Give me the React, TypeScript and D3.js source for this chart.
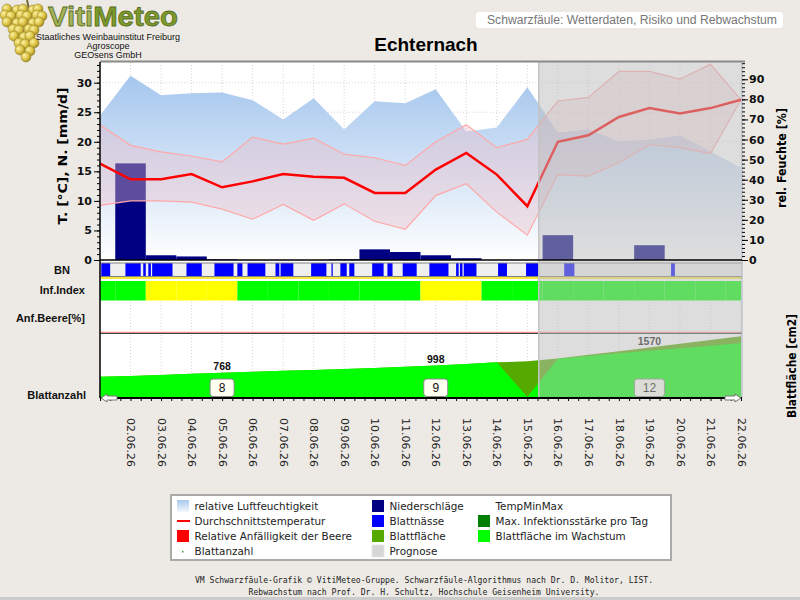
import React, { useRef, useEffect } from 'react'
import * as d3 from 'd3'

// one value per day, 01.06.26 - 22.06.26
const dates = ['01.06.26', '02.06.26', '03.06.26', '04.06.26', '05.06.26', '06.06.26', '07.06.26', '08.06.26',
    '09.06.26', '10.06.26', '11.06.26', '12.06.26', '13.06.26', '14.06.26', '15.06.26', '16.06.26',
    '17.06.26', '18.06.26', '19.06.26', '20.06.26', '21.06.26', '22.06.26']
const humidity = [72, 91.7, 82, 83, 83.4, 79.6, 70, 80.5, 65, 79, 78, 85, 64, 66, 86, 63.5, 65, 59, 60, 62, 54, 46]
const tempMean = [16.3, 13.65, 13.65, 14.55, 12.3, 13.3, 14.55, 14.1, 13.9, 11.35, 11.35, 15.3, 18.1, 14.45, 9.1, 20, 21.1, 24.2, 25.7, 24.8, 25.7, 27.1]
const tempMax = [22.9, 19.4, 18.3, 17.6, 16.6, 20.8, 19.6, 20.6, 17.9, 17.3, 16, 20, 22.9, 19, 20.4, 26.9, 27.5, 31.9, 31.9, 30.6, 33.1, 27.1]
const tempMin = [9.25, 10, 10, 9.8, 8.6, 6.9, 9.4, 6.7, 9.5, 6.55, 5.2, 10.9, 12.9, 8.1, 4.2, 14.45, 14.2, 16.5, 19.5, 19, 18, 27.1]
const rain = [0, 16.35, 0.8, 0.6, 0.1, 0, 0, 0, 0.1, 1.8, 1.35, 0.8, 0.3, 0, 0, 4.2, 0, 0, 2.5, 0, 0, 0]
const infIndex = [0, 0, 1, 1, 1, 0, 0, 0, 0, 0, 0, 1, 1, 0, 0, 0, 0, 0, 0, 0, 0, 0]
const leafArea = [644, 670, 700, 735, 768, 800, 830, 857, 888, 920, 958, 998, 1050, 1100, 1133, 1225, 1340, 1455, 1570, 1690, 1810, 1925]
const leafGrowing = [644, 670, 700, 735, 768, 800, 830, 857, 888, 920, 958, 998, 1050, 1100, 0, 1216, 1300, 1385, 1465, 1550, 1630, 1714]
const countDates = ['05.06.26', '12.06.26', '19.06.26']
const leafCount = [8, 9, 12]
// leaf wetness periods in hours from 01.06. 00:00
const leafWetness = [[1, 8], [20, 32], [34, 36], [38, 40], [41, 57], [68, 80], [90, 105], [108, 112], [116, 130],
    [138, 141], [142, 152], [166, 178], [182, 183], [189, 194], [196, 200], [214, 223], [226, 230], [238, 249],
    [259, 274], [280, 282], [283, 285], [286, 296], [313, 320], [335, 345], [365, 373], [449, 452]]
const forecastFrom = 345

const infColors = ['#00ff00', '#ffff00']
const leftTicks = [0, 5, 10, 15, 20, 25, 30]
const rightTicks = [0, 10, 20, 30, 40, 50, 60, 70, 80, 90]

const SANS = 'Liberation Sans, Arial, sans-serif'
const VERDANA = 'DejaVu Sans, Verdana, sans-serif'

export default function App() {
    return (
        <div style={{ position: 'absolute', left: 0, top: 0 }}>
            <Chart />
        </div>
    )
}

function Chart() {
    const svgRef = useRef<SVGSVGElement>(null)

    useEffect(() => {
        const svg = d3.select(svgRef.current)
        svg.selectAll('*').remove()

        const L = 100, R = 742, T = 62, B = 398
        const hours = dates.map((_, i) => i * 24)
        const x = d3.scaleLinear().domain([0, 504]).range([100, 741])
        const yT = d3.scaleLinear().domain([0, 33.5]).range([260, T])
        const yH = d3.scaleLinear().domain([0, 98.6]).range([260, T])
        const yL = d3.scaleLinear().domain([0, 2000]).range([397, 334])
        const clampX = (h: number) => x(Math.max(0, Math.min(504, h)))

        svg.append('rect').attr('width', 800).attr('height', 600).attr('fill', '#edeae5')
        svg.append('rect').attr('y', 597).attr('width', 800).attr('height', 3).attr('fill', '#cbcbcb')

        const defs = svg.append('defs')
        const hg = defs.append('linearGradient').attr('id', 'humGrad')
            .attr('gradientUnits', 'userSpaceOnUse').attr('x1', 0).attr('x2', 0).attr('y1', T).attr('y2', 260)
        hg.append('stop').attr('offset', 0).attr('stop-color', '#9ec2ec')
        hg.append('stop').attr('offset', 1).attr('stop-color', '#ffffff')
        const lg = defs.append('linearGradient').attr('id', 'humIcon').attr('x1', 0).attr('x2', 0).attr('y1', 0).attr('y2', 1)
        lg.append('stop').attr('offset', 0).attr('stop-color', '#a8c8ee')
        lg.append('stop').attr('offset', 1).attr('stop-color', '#f4f8fd')
        const gg = defs.append('radialGradient').attr('id', 'grape').attr('cx', 0.35).attr('cy', 0.35).attr('r', 0.7)
        gg.append('stop').attr('offset', 0).attr('stop-color', '#fbf0a0')
        gg.append('stop').attr('offset', 0.6).attr('stop-color', '#d9c040')
        gg.append('stop').attr('offset', 1).attr('stop-color', '#9a8420')

        // logo: grape cluster + lettering
        const logo = svg.append('g')
        logo.append('path').attr('d', 'M27,0 L29,9').attr('stroke', '#7a6a30').attr('stroke-width', 2)
        const grapeRows = [[9, [8, 16, 24, 32, 39]], [15, [4, 12, 20, 28, 36, 43]], [22, [8, 16, 24, 32, 40]],
            [29, [12, 20, 28, 35]], [36, [15, 23, 31]], [43, [18, 26, 33]], [50, [21, 29]], [57, [25]]] as [number, number[]][]
        grapeRows.forEach(([gy, xs], r) => xs.forEach((gx, k) => {
            logo.append('circle').attr('cx', gx + ((r + k) % 2 ? 1 : -1)).attr('cy', gy + (k % 2 ? 1 : 0)).attr('r', 5)
                .attr('fill', 'url(#grape)').attr('stroke', '#8c7a22').attr('stroke-width', 0.5)
        }))
        const vm = logo.append('text').attr('x', 48).attr('y', 25.5).attr('font-family', SANS)
            .attr('font-weight', 'bold').attr('font-size', 28).attr('stroke', '#5a6e22').attr('stroke-width', 0.8)
            .attr('textLength', 130).attr('lengthAdjust', 'spacingAndGlyphs')
        vm.append('tspan').attr('fill', '#a3b35a').text('Viti')
        vm.append('tspan').attr('fill', '#7c9a2c').text('Meteo')
        const sub = ['Staatliches Weinbauinstitut Freiburg', 'Agroscope', 'GEOsens GmbH']
        sub.forEach((s, i) => {
            logo.append('text').attr('x', 108).attr('y', 40 + i * 9).attr('text-anchor', 'middle')
                .attr('font-family', SANS).attr('font-size', 9).attr('fill', '#111').text(s)
        })

        // header
        svg.append('rect').attr('x', 476).attr('y', 12).attr('width', 307).attr('height', 16).attr('rx', 4)
            .attr('fill', '#fff')
        svg.append('text').attr('x', 487).attr('y', 24).attr('font-family', SANS).attr('font-size', 12.5)
            .attr('fill', '#777').attr('textLength', 290).attr('lengthAdjust', 'spacingAndGlyphs')
            .text('Schwarzfäule: Wetterdaten, Risiko und Rebwachstum')
        svg.append('text').attr('x', 426).attr('y', 51).attr('text-anchor', 'middle').attr('font-family', SANS)
            .attr('font-weight', 'bold').attr('font-size', 19).attr('fill', '#000').text('Echternach')

        // plot area + grid
        svg.append('rect').attr('x', L).attr('y', T).attr('width', R - L).attr('height', B - T).attr('fill', '#fff')
        const grid = svg.append('g').attr('stroke', '#d6d6d6').attr('stroke-dasharray', '1,2')
        hours.slice(1).forEach(h => {
            grid.append('line').attr('x1', x(h)).attr('x2', x(h)).attr('y1', T).attr('y2', B)
        })
        leftTicks.slice(1).forEach(v => {
            grid.append('line').attr('x1', L).attr('x2', R).attr('y1', yT(v)).attr('y2', yT(v))
        })

        // relative humidity
        svg.append('path').datum(humidity)
            .attr('d', d3.area<number>().x((d, i) => x(hours[i])).y0(260).y1(d => yH(d)))
            .attr('fill', 'url(#humGrad)')

        // precipitation
        svg.selectAll('.rain').data(rain).join('rect')
            .attr('x', (d, i) => clampX(hours[i] - 12))
            .attr('width', (d, i) => clampX(hours[i] + 12) - clampX(hours[i] - 12))
            .attr('y', d => yT(d))
            .attr('height', d => 260 - yT(d))
            .attr('fill', '#000080')

        // temperature min/max band and daily mean
        svg.append('path').datum(dates)
            .attr('d', d3.area<string>().x((d, i) => x(hours[i])).y0((d, i) => yT(tempMin[i])).y1((d, i) => yT(tempMax[i])))
            .attr('fill', 'rgb(235,190,200)').attr('fill-opacity', 0.4)
        const line = d3.line<number>().x((d, i) => x(hours[i])).y(d => yT(d))
        svg.append('path').datum(tempMax).attr('d', line).attr('fill', 'none').attr('stroke', '#ffa8a8').attr('stroke-width', 1.2)
        svg.append('path').datum(tempMin).attr('d', line).attr('fill', 'none').attr('stroke', '#ffa8a8').attr('stroke-width', 1.2)
        svg.append('path').datum(tempMean).attr('d', line).attr('fill', 'none').attr('stroke', '#ff0000').attr('stroke-width', 2.5)

        // leaf wetness row
        svg.append('rect').attr('x', L).attr('y', 263).attr('width', R - L).attr('height', 13.5).attr('fill', '#efefef')
        svg.selectAll('.bn').data(leafWetness).join('rect')
            .attr('x', d => x(d[0])).attr('width', d => x(d[1]) - x(d[0]))
            .attr('y', 263).attr('height', 13.5).attr('fill', '#0000ff')
        svg.append('line').attr('x1', L).attr('x2', R).attr('y1', 263).attr('y2', 263).attr('stroke', '#808080')
        svg.append('line').attr('x1', L).attr('x2', R).attr('y1', 276.5).attr('y2', 276.5).attr('stroke', '#808080')
        svg.append('line').attr('x1', L).attr('x2', R).attr('y1', 278).attr('y2', 278).attr('stroke', '#f0e000').attr('stroke-width', 1.5)

        // infection index row
        svg.selectAll('.inf').data(infIndex).join('rect')
            .attr('x', (d, i) => clampX(hours[i] - 12))
            .attr('width', (d, i) => clampX(hours[i] + 12) - clampX(hours[i] - 12))
            .attr('y', 281).attr('height', 19.5).attr('fill', d => infColors[d])

        // berry susceptibility baseline
        svg.append('line').attr('x1', L).attr('x2', R).attr('y1', 332.3).attr('y2', 332.3).attr('stroke', '#ff7070')
        svg.append('line').attr('x1', L).attr('x2', R).attr('y1', 333.5).attr('y2', 333.5).attr('stroke', '#2f4848')

        // leaf area
        const leafShape = d3.area<number>().x((d, i) => x(hours[i])).y0(yL(0)).y1(d => yL(d))
        svg.append('path').datum(leafArea).attr('d', leafShape).attr('fill', '#55aa00')
        svg.append('path').datum(leafGrowing).attr('d', leafShape).attr('fill', '#00ff00')

        countDates.forEach((c, k) => {
            const i = dates.indexOf(c)
            const cx = x(hours[i])
            svg.append('text').attr('x', cx).attr('y', yL(leafArea[i]) - 3).attr('text-anchor', 'middle')
                .attr('font-family', SANS).attr('font-weight', 'bold').attr('font-size', 10.5).attr('fill', '#111')
                .text(leafArea[i])
            const w = leafCount[k] > 9 ? 30 : 24
            svg.append('rect').attr('x', cx - w / 2).attr('y', 379).attr('width', w).attr('height', 17.5).attr('rx', 3)
                .attr('fill', '#fffff2').attr('stroke', '#8a8a8a')
            svg.append('text').attr('x', cx).attr('y', 392).attr('text-anchor', 'middle')
                .attr('font-family', SANS).attr('font-size', 12).attr('fill', '#111').text(leafCount[k])
        })

        // forecast overlay
        svg.append('rect').attr('x', x(forecastFrom)).attr('y', T).attr('width', R - x(forecastFrom)).attr('height', B - T)
            .attr('fill', 'rgb(188,188,188)').attr('fill-opacity', 0.51)
        svg.append('line').attr('x1', x(forecastFrom)).attr('x2', x(forecastFrom)).attr('y1', T).attr('y2', B)
            .attr('stroke', '#c4c4c4').attr('stroke-width', 1.5)

        // frame
        svg.append('line').attr('x1', L).attr('x2', 745).attr('y1', 61.5).attr('y2', 61.5).attr('stroke', '#8a8a8a').attr('stroke-width', 2)
        svg.append('line').attr('x1', R).attr('x2', R).attr('y1', T).attr('y2', B).attr('stroke', '#a8b4c4')
        svg.append('line').attr('x1', L).attr('x2', L).attr('y1', T).attr('y2', B).attr('stroke', '#000').attr('stroke-width', 1.5)
        svg.append('line').attr('x1', L).attr('x2', R).attr('y1', 260).attr('y2', 260).attr('stroke', '#000').attr('stroke-width', 1.5)

        // axes
        const styleTicks = (g: any) => {
            g.select('.domain').remove()
            g.selectAll('text').attr('font-family', VERDANA).attr('font-weight', 'bold').attr('font-size', 11).attr('fill', '#111')
        }
        svg.append('g').attr('transform', `translate(${L},0)`)
            .call(d3.axisLeft(yT).tickValues(d3.range(0, 34)).tickSize(3).tickFormat(() => ''))
            .call(styleTicks)
        svg.append('g').attr('transform', `translate(${L},0)`)
            .call(d3.axisLeft(yT).tickValues(leftTicks).tickSize(6).tickPadding(2))
            .call(styleTicks)
        svg.append('g').attr('transform', `translate(${R},0)`)
            .call(d3.axisRight(yH).tickValues(d3.range(0, 99, 2)).tickSize(3).tickFormat(() => ''))
            .call(styleTicks)
        svg.append('g').attr('transform', `translate(${R},0)`)
            .call(d3.axisRight(yH).tickValues(rightTicks).tickSize(6).tickPadding(1))
            .call(styleTicks)

        svg.append('g').attr('transform', `translate(0,${B})`)
            .call(d3.axisBottom(x).tickValues(d3.range(0, 505, 8)).tickSize(3).tickFormat(() => ''))
            .call(g => g.select('.domain').remove())
        const xAxis = svg.append('g').attr('transform', `translate(0,${B})`)
            .call(d3.axisBottom(x).tickValues(hours.slice(1)).tickSize(0).tickFormat((d, i) => dates[i + 1]))
        xAxis.select('.domain').remove()
        xAxis.selectAll('text')
            .attr('x', 0).attr('y', 0).attr('dy', '0.35em')
            .attr('text-anchor', 'start')
            .attr('transform', 'translate(0,20) rotate(90)')
            .attr('font-family', VERDANA).attr('font-size', 11).attr('fill', '#222')
        svg.append('line').attr('x1', L).attr('x2', R).attr('y1', B).attr('y2', B).attr('stroke', '#000').attr('stroke-width', 2)
        const arrow = 'M0,0 L6,-4 L6,-2 L16,-2 L16,2 L6,2 L6,4 Z'
        svg.append('path').attr('d', arrow).attr('transform', `translate(${L + 1},${B})`)
            .attr('fill', '#fff').attr('stroke', '#777')
        svg.append('path').attr('d', arrow).attr('transform', `translate(${R - 1},${B}) scale(-1,1)`)
            .attr('fill', '#fff').attr('stroke', '#777')

        // axis and row titles
        const boldTitle = (t: string, tx: number, ty: number, len: number) =>
            svg.append('text').attr('transform', `translate(${tx},${ty}) rotate(-90)`).attr('text-anchor', 'middle')
                .attr('font-family', VERDANA).attr('font-weight', 'bold').attr('font-size', 12).attr('fill', '#000')
                .attr('textLength', len).attr('lengthAdjust', 'spacingAndGlyphs').text(t)
        boldTitle('T. [°C], N. [mm/d]', 67, 156, 137)
        boldTitle('rel. Feuchte [%]', 786, 158, 100)
        boldTitle('Blattfläche [cm2]', 796, 366, 104)

        const rowLabel = (t: string, tx: number, ty: number, anchor: string) =>
            svg.append('text').attr('x', tx).attr('y', ty).attr('text-anchor', anchor)
                .attr('font-family', SANS).attr('font-weight', 'bold').attr('font-size', 11).attr('fill', '#111').text(t)
        rowLabel('BN', 62, 274, 'middle')
        rowLabel('Inf.Index', 85, 294, 'end')
        rowLabel('Anf.Beere[%]', 85, 322, 'end')
        rowLabel('Blattanzahl', 86, 399, 'end')

        // legend
        const lgd = svg.append('g')
        lgd.append('rect').attr('x', 171).attr('y', 495).attr('width', 500).attr('height', 65)
            .attr('fill', '#fff').attr('stroke', '#aaa').attr('stroke-width', 2)
        const cols = [177, 372, 478]
        const rows = [506, 521, 536, 551]
        const items: [number, number, string, string][] = [
            [0, 0, 'grad', 'relative Luftfeuchtigkeit'],
            [0, 1, 'line', 'Durchschnittstemperatur'],
            [0, 2, '#ff0000', 'Relative Anfälligkeit der Beere'],
            [0, 3, 'dot', 'Blattanzahl'],
            [1, 0, '#000080', 'Niederschläge'],
            [1, 1, '#0000ff', 'Blattnässe'],
            [1, 2, '#55aa00', 'Blattfläche'],
            [1, 3, '#d6d6d6', 'Prognose'],
            [2, 0, 'none', 'TempMinMax'],
            [2, 1, '#008000', 'Max. Infektionsstärke pro Tag'],
            [2, 2, '#00ff00', 'Blattfläche im Wachstum'],
        ]
        items.forEach(([c, r, kind, label]) => {
            const ix = cols[c], iy = rows[r]
            if (kind === 'line') {
                lgd.append('line').attr('x1', ix).attr('x2', ix + 13).attr('y1', iy).attr('y2', iy).attr('stroke', '#ff0000').attr('stroke-width', 2)
            } else if (kind === 'dot') {
                lgd.append('rect').attr('x', ix + 5).attr('y', iy).attr('width', 1.5).attr('height', 1.5).attr('fill', '#3a9a3a')
            } else if (kind === 'grad') {
                lgd.append('rect').attr('x', ix).attr('y', iy - 6).attr('width', 12).attr('height', 12).attr('fill', 'url(#humIcon)')
            } else if (kind !== 'none') {
                lgd.append('rect').attr('x', ix).attr('y', iy - 6).attr('width', 12).attr('height', 12).attr('fill', kind)
                    .attr('stroke', kind === '#d6d6d6' ? '#e6e6e6' : 'none')
            }
            lgd.append('text').attr('x', ix + 17.5).attr('y', iy + 3.8).attr('font-family', VERDANA).attr('font-size', 10.4)
                .attr('fill', '#222').text(label)
        })

        // footer
        const foot = ['VM Schwarzfäule-Grafik © VitiMeteo-Gruppe. Schwarzfäule-Algorithmus nach Dr. D. Molitor, LIST.',
            'Rebwachstum nach Prof. Dr. H. Schultz, Hochschule Geisenheim University.']
        foot.forEach((f, i) => {
            svg.append('text').attr('x', 424).attr('y', 582.5 + i * 12).attr('text-anchor', 'middle')
                .attr('font-family', 'DejaVu Sans Mono, monospace').attr('font-size', 8.1).attr('fill', '#222').text(f)
        })
    }, [])

    return <svg ref={svgRef} width={800} height={600} style={{ display: 'block' }}></svg>
}
